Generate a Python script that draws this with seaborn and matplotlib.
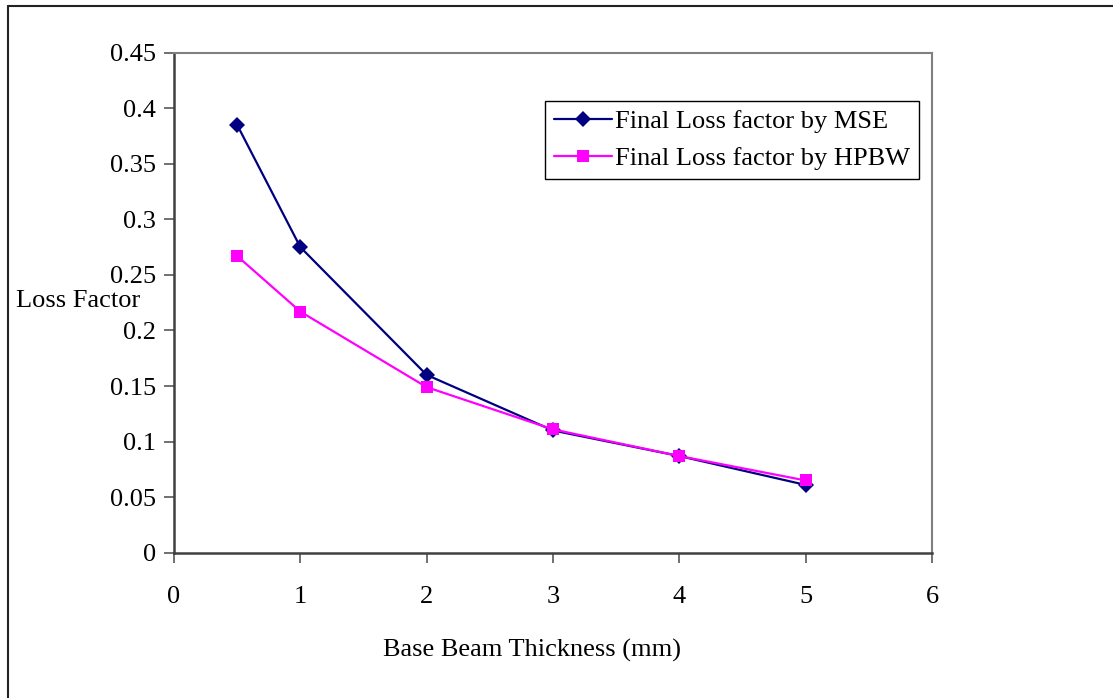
import matplotlib
matplotlib.use("Agg")
import matplotlib.pyplot as plt
from matplotlib.lines import Line2D
import seaborn as sns
import pandas as pd

# Loss factor versus base beam thickness, two estimation methods
thickness_mm = [0.5, 1, 2, 3, 4, 5]
loss_mse = [0.385, 0.275, 0.160, 0.110, 0.087, 0.061]
loss_hpbw = [0.267, 0.217, 0.149, 0.111, 0.087, 0.065]
series_names = ["Final Loss factor by MSE", "Final Loss factor by HPBW"]
series_colors = ["#000080", "#FF00FF"]
series_markers = ["D", "s"]
y_ticks = [0, 0.05, 0.1, 0.15, 0.2, 0.25, 0.3, 0.35, 0.4, 0.45]
y_tick_labels = ["0", "0.05", "0.1", "0.15", "0.2", "0.25", "0.3", "0.35", "0.4", "0.45"]
x_ticks = [0, 1, 2, 3, 4, 5, 6]

df = pd.DataFrame({
    "thickness": thickness_mm * 2,
    "loss": loss_mse + loss_hpbw,
    "series": [series_names[0]] * len(thickness_mm) + [series_names[1]] * len(thickness_mm),
})

sns.set_style("white")
plt.rcParams["font.family"] = ["Liberation Serif", "DejaVu Serif"]
FS = 19

fig = plt.figure(figsize=(11.13, 6.98), dpi=100)
ax = fig.add_axes([174 / 1113, 1 - 552.7 / 698, (932 - 174) / 1113, (552.7 - 52.7) / 698])

sns.lineplot(
    data=df, x="thickness", y="loss", hue="series", style="series",
    hue_order=series_names, style_order=series_names,
    palette=dict(zip(series_names, series_colors)),
    markers=dict(zip(series_names, series_markers)),
    dashes=False, ax=ax, linewidth=1.6, markersize=8.5,
    markeredgewidth=0, legend=True,
)
for line, m in zip(ax.lines[:2], series_markers):
    if m == "D":
        line.set_markersize(8)

ax.set_xlim(0, 6)
ax.set_ylim(0, 0.45)
ax.set_xticks(x_ticks)
ax.set_xticklabels([str(t) for t in x_ticks])
ax.set_yticks(y_ticks)
ax.set_yticklabels(y_tick_labels)
ax.tick_params(axis="both", labelsize=FS, colors="#707070", labelcolor="black",
               length=7.2, width=1.4, direction="out", bottom=True, left=True)
ax.tick_params(axis="y", pad=5.5)
ax.tick_params(axis="x", pad=17)

for side in ["left", "bottom"]:
    ax.spines[side].set_color("#404040")
    ax.spines[side].set_linewidth(1.8)
for side in ["top", "right"]:
    ax.spines[side].set_color("#808080")
    ax.spines[side].set_linewidth(1.5)
ax.grid(False)

ax.set_xlabel("Base Beam Thickness (mm)", fontsize=FS, va="center", color="black")
ax.xaxis.set_label_coords((531.7 - 174) / 758, (552.7 - 650) / 500)
ax.set_ylabel("Loss Factor", fontsize=FS, rotation=0, ha="left", va="center", color="black")
ax.yaxis.set_label_coords((16 - 174) / 758, (552.7 - 301) / 500)

handles, labels = ax.get_legend_handles_labels()
leg = ax.legend(
    handles, labels, loc="upper left",
    bbox_to_anchor=((545 - 174) / 758, (552.7 - 100.7) / 500),
    borderaxespad=0, fancybox=False, framealpha=1, edgecolor="black",
    fontsize=FS, handlelength=2.2, handletextpad=0.1, borderpad=0.35,
    labelspacing=0.5,
)
leg.get_frame().set_linewidth(1.0)
for t in leg.get_texts():
    t.set_color("black")

# Outer chart frame (left and top edges)
fig.add_artist(Line2D([8 / 1113, 8 / 1113], [0, 1 - 6 / 698], transform=fig.transFigure,
                      color="#222222", linewidth=1.5))
fig.add_artist(Line2D([8 / 1113, 1], [1 - 6 / 698, 1 - 6 / 698], transform=fig.transFigure,
                      color="#222222", linewidth=1.5))

fig.savefig("out.png", dpi=100)
